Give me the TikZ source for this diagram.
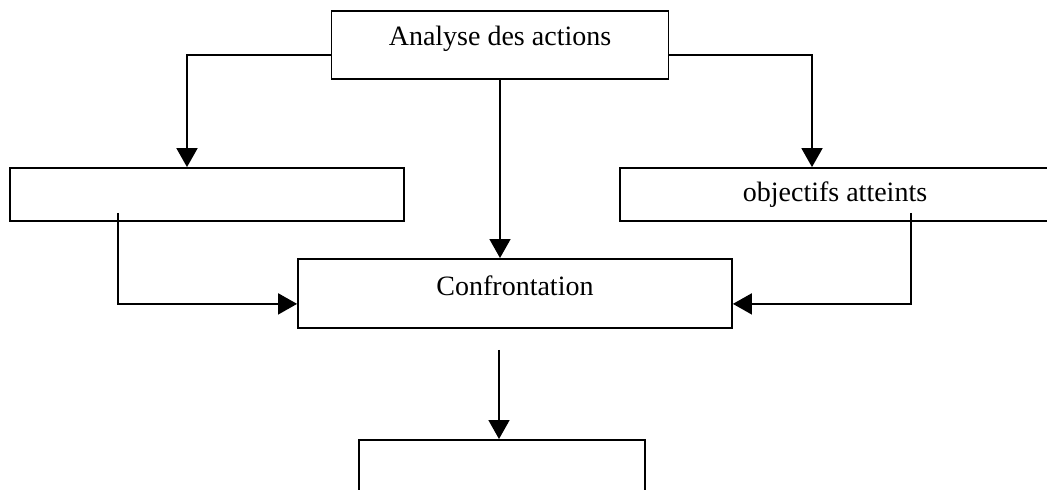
\documentclass[tikz,border=0pt]{standalone}
\usepackage{fontspec}
\setmainfont{Liberation Serif}
\usetikzlibrary{arrows.meta,calc}
\tikzset{
  boite/.style={draw, line width=1.8pt, inner sep=0pt, font=\fontsize{28}{34}\selectfont},
  fleche/.style={line width=1.8pt, -{Triangle[length=19pt,width=21pt]}}
}
\begin{document}
\begin{tikzpicture}[x=1pt, y=-1pt]
      \clip (0,0) rectangle (1047,490);
      \path[use as bounding box] (0,0) rectangle (1047,490);
      \draw
        (500,10) node[boite, anchor=north, minimum width=337pt, text height=35pt, text depth=33pt] (analyse){Analyse des actions}
        (207,194.5) node[boite, minimum width=394pt, minimum height=53pt] (gauche){}
        (835,194.5) node[boite, minimum width=430pt, minimum height=53pt] (atteints){objectifs atteints}
        (515,258) node[boite, anchor=north, minimum width=434pt, text height=37pt, text depth=32pt] (confr){Confrontation}
        (502,439) node[boite, anchor=north, minimum width=286pt, minimum height=80pt] (resultat){};
      \coordinate (depart) at ($(confr.south -| resultat.north)+(-3,21)$);
      \begin{scope}[fleche]
        \draw ([yshift=-45pt]analyse.north west) -| ([xshift=-20pt]gauche.north);
        \draw ([yshift=-45pt]analyse.north east) -| ([xshift=-23pt]atteints.north);
        \draw (analyse.south) -- (analyse.south |- confr.north);
        \draw ([xshift=-89pt,yshift=9pt]gauche.south) |- ([yshift=-10.5pt]confr.west);
        \draw ([xshift=76pt,yshift=9pt]atteints.south) |- ([yshift=-10.5pt]confr.east);
        \draw (depart) -- (depart |- resultat.north);
      \end{scope}
    \end{tikzpicture}
\end{document}
